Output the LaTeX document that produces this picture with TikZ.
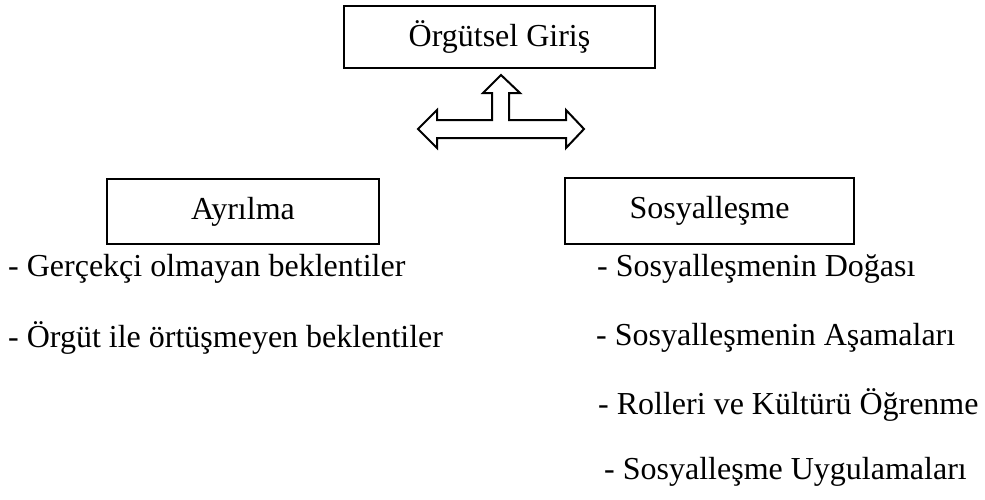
\documentclass[tikz,border=0pt]{standalone}
\usepackage{fontspec}
\setmainfont{Liberation Serif}
\usepackage{tikz}
\usetikzlibrary{positioning}

\tikzset{
  kutu/.style={draw, line width=2.2pt, minimum height=62pt, inner sep=0pt, font=\fontsize{32}{38}\selectfont},
  madde/.style={anchor=west, inner sep=0pt, font=\fontsize{32}{38}\selectfont}
}

\begin{document}
\begin{tikzpicture}[x=1pt, y=-1pt]
      \useasboundingbox (0, 0) rectangle (985, 499);
      % kutular
      \node[kutu, minimum width=311pt] (giris) at (499.5, 37) {Örgütsel Giriş};
      \node[kutu, minimum width=272pt, minimum height=65pt] (ayrilma) at (243, 211.5) {Ayrılma};
      \node[kutu, minimum width=289pt, minimum height=66pt] (sosyal) at (709.5, 211) {Sosyalleşme};
      % ok
      \draw[line width=2pt, fill=white] (501, 75) -- (520, 93) -- (509, 93) -- (509, 120)
        -- (566, 120) -- (566, 110) -- (584, 129) -- (566, 148) -- (566, 138)
        -- (437, 138) -- (437, 148) -- (418, 129) -- (437, 110) -- (437, 120)
        -- (492, 120) -- (492, 93) -- (483, 93) -- cycle;
      % maddeler
      \node[madde] (a1) at (8, 269) {- Gerçekçi olmayan beklentiler};
      \node[madde] (a2) at (8, 338) {- Örgüt ile örtüşmeyen beklentiler};
      \node[madde] (s1) at (597, 269) {- Sosyalleşmenin Doğası};
      \node[madde] (s2) at (596, 338) {- Sosyalleşmenin Aşamaları};
      \node[madde] (s3) at (598, 405) {- Rolleri ve Kültürü Öğrenme};
      \node[madde] (s4) at (604, 472) {- Sosyalleşme Uygulamaları};
    \end{tikzpicture}
\end{document}
